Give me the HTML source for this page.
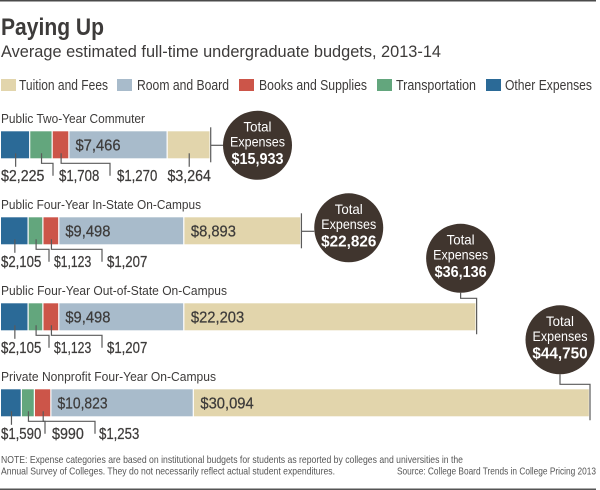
<!DOCTYPE html>
<html>
<head>
<meta charset="utf-8">
<title>Paying Up</title>
<style>
html,body{margin:0;padding:0;background:#fff;width:600px;height:490px;overflow:hidden}
svg{display:block}
text{font-family:"Liberation Sans",sans-serif;fill:#3d3b3a}
</style>
</head>
<body>
<svg id="chart" width="600" height="490" viewBox="0 0 600 490" xmlns="http://www.w3.org/2000/svg">
  <rect x="0" y="0" width="596" height="1.5" fill="#4a4a4a"/>
  <text x="1" y="35" font-size="24" font-weight="bold" textLength="103" lengthAdjust="spacingAndGlyphs">Paying Up</text>
  <text x="1" y="57" font-size="16.5" textLength="440" lengthAdjust="spacingAndGlyphs">Average estimated full-time undergraduate budgets, 2013-14</text>
  <g id="legend"></g>
  <g id="rows"></g>
  <text x="1" y="463" font-size="10.5" style="fill:#555" textLength="462" lengthAdjust="spacingAndGlyphs">NOTE: Expense categories are based on institutional budgets for students as reported by colleges and universities in the</text>
  <text x="1" y="474.5" font-size="10.5" style="fill:#555" textLength="334" lengthAdjust="spacingAndGlyphs">Annual Survey of Colleges. They do not necessarily reflect actual student expenditures.</text>
  <text x="397" y="474.5" font-size="10.5" style="fill:#555" textLength="199" lengthAdjust="spacingAndGlyphs">Source: College Board Trends in College Pricing 2013</text>
  <rect x="0" y="488.5" width="596" height="1.5" fill="#555"/>
</svg>
<script>
const categories = ["Public Two-Year Commuter", "Public Four-Year In-State On-Campus", "Public Four-Year Out-of-State On-Campus", "Private Nonprofit Four-Year On-Campus"];
const otherExpenses = [2225, 2105, 2105, 1590];
const transportation = [1708, 1123, 1123, 990];
const booksSupplies = [1270, 1207, 1207, 1253];
const roomBoard = [7466, 9498, 9498, 10823];
const tuitionFees = [3264, 8893, 22203, 30094];
const totals = [15933, 22826, 36136, 44750];
const legendLabels = ["Tuition and Fees", "Room and Board", "Books and Supplies", "Transportation", "Other Expenses"];
const axisMax = 44750;

const SVGNS = "http://www.w3.org/2000/svg";
const COLORS = {tuition:"#e2d5ac", room:"#a8bbcb", books:"#cc5549", transport:"#63a67d", other:"#2b6a97"};
const INK = "#3d3b3a";
const LEAD = "#5a5a5a";
const DARK = "#40352e";

function xScale(v){ return 1 + v * 589 / axisMax; }
function rowTop(i){ return 131.3 + 86 * i; }
function money(v){ return "$" + String(v).replace(/\B(?=(\d{3})+$)/g, ","); }
/* rendered width of a money string in the reference's narrow-"1" numerals */
function moneyWidth(str, k){
  let w = 0;
  for (const ch of str) w += ch === "1" ? 4.8 : (ch === "," ? 3.5 : 7.8);
  return w * k;
}
function make(tag, attrs, parent, content){
  const el = document.createElementNS(SVGNS, tag);
  for (const k in attrs) el.setAttribute(k, attrs[k]);
  if (content !== undefined) el.textContent = content;
  parent.appendChild(el);
  return el;
}

/* legend */
const legendRoot = document.getElementById("legend");
const legendColors = [COLORS.tuition, COLORS.room, COLORS.books, COLORS.transport, COLORS.other];
const legendSwatchX = [1, 117, 239, 377, 486];
const legendTextX = [19, 137, 259, 396, 505];
const legendTextW = [89, 92, 108, 80, 87];
legendLabels.forEach(function(name, i){
  const sw = make("rect", {x:legendSwatchX[i], y:79, width:15, height:12, fill:legendColors[i]}, legendRoot);
  
  
  const t = make("text", {x:legendTextX[i], y:90, "font-size":14.5, textLength:legendTextW[i], lengthAdjust:"spacingAndGlyphs"}, legendRoot, name);
  
  
});

/* layout, per row: category title width, label placement, total bubble offsets */
const titleWidth = [144, 200, 226, 215];
const elbowX = [[53,110],[49,102],[49,102],[45,95]];
const labelStart = [[59,117],[54,107],[54,107],[52,99]];
const bubbleDx = [46.8, 47.3, -16, -30];
const bubbleDy = [14, 10.5, -45, -49.5];

const root = document.getElementById("rows");
const BAR_H = 27;

categories.forEach(function(cat, i){
  const top = rowTop(i);
  const g = make("g", {}, root);
  
  

  const title = make("text", {x:1, y:top-8.5, "font-size":13, textLength:titleWidth[i], lengthAdjust:"spacingAndGlyphs"}, g, cat);
  
  

  const segs = [
    {key:"other", v:otherExpenses[i]},
    {key:"transport", v:transportation[i]},
    {key:"books", v:booksSupplies[i]},
    {key:"room", v:roomBoard[i]},
    {key:"tuition", v:tuitionFees[i]}
  ];
  let cum = 0;
  segs.forEach(function(s){
    s.x0 = xScale(cum);
    cum += s.v;
    s.x1 = xScale(cum);
    s.mid = (s.x0 + s.x1) / 2;
    const r = make("rect", {x:s.x0, y:top, width:Math.max(0, s.x1 - s.x0 - 1.2), height:BAR_H, fill:COLORS[s.key]}, g);
    
    
  });

  const base = top + 49.5;
  const stem = top + 22;
  const drop = top + 32;

  function leader(d){
    const p = make("path", {d:d, fill:"none", stroke:LEAD, "stroke-width":1.2}, g);
    
    
  }
  function below(v, x, anchor){
    const s = money(v);
    const t = make("text", {x:x, y:base, "font-size":15.5, "text-anchor":anchor || "start", textLength:moneyWidth(s, 1.02), lengthAdjust:"spacingAndGlyphs", style:"fill:" + INK + ";stroke:" + INK + ";stroke-width:.25"}, g, s);
    
    
  }
  function inner(v, x){
    const s = money(v);
    const t = make("text", {x:x, y:top + 19, "font-size":15.5, textLength:moneyWidth(s, 1.06), lengthAdjust:"spacingAndGlyphs", style:"fill:" + INK + ";stroke:" + INK + ";stroke-width:.25"}, g, s);
    
    
  }

  leader("M" + segs[0].mid + " " + stem + "V" + (base - 14));
  below(segs[0].v, 1);

  leader("M" + segs[1].mid + " " + stem + "V" + drop + "H" + elbowX[i][0] + "V" + (base - 5));
  below(segs[1].v, labelStart[i][0]);

  leader("M" + segs[2].mid + " " + stem + "V" + drop + "H" + elbowX[i][1] + "V" + (base - 5));
  below(segs[2].v, labelStart[i][1]);

  inner(segs[3].v, segs[3].x0 + 6);

  if (segs[4].x1 - segs[4].x0 < 60) {
    leader("M" + segs[4].mid + " " + stem + "V" + (base - 14));
    below(segs[4].v, segs[4].mid, "middle");
  } else {
    inner(segs[4].v, segs[4].x0 + 6.5);
  }

  /* total bubble and connector */
  const endX = xScale(totals[i]);
  const cx = endX + bubbleDx[i];
  const cy = top + bubbleDy[i];
  const R = 34.5;
  if (bubbleDy[i] > 0) {
    leader("M" + endX + " " + (top - 4) + "V" + (top + 31));
    leader("M" + endX + " " + (top + 14) + "H" + (cx - R));
  } else {
    leader("M" + cx + " " + (cy + R) + "V" + (top - 5) + "H" + endX + "V" + (top + 31));
  }
  const c = make("circle", {cx:cx, cy:cy, r:R, fill:DARK}, g);
  
  
  const t1 = make("text", {x:cx, y:cy - 14, "font-size":14, "text-anchor":"middle", style:"fill:#fff", textLength:28, lengthAdjust:"spacingAndGlyphs"}, g, "Total");
  
  
  const t2 = make("text", {x:cx, y:cy + 1, "font-size":14, "text-anchor":"middle", style:"fill:#fff", textLength:55, lengthAdjust:"spacingAndGlyphs"}, g, "Expenses");
  
  
  const totalStr = money(totals[i]);
  const t3 = make("text", {x:cx, y:cy + 18.5, "font-size":15.5, "font-weight":"bold", "text-anchor":"middle", textLength:moneyWidth(totalStr, 1.1), lengthAdjust:"spacingAndGlyphs", style:"fill:#fff"}, g, totalStr);
  
  
});
</script>
</body>
</html>
